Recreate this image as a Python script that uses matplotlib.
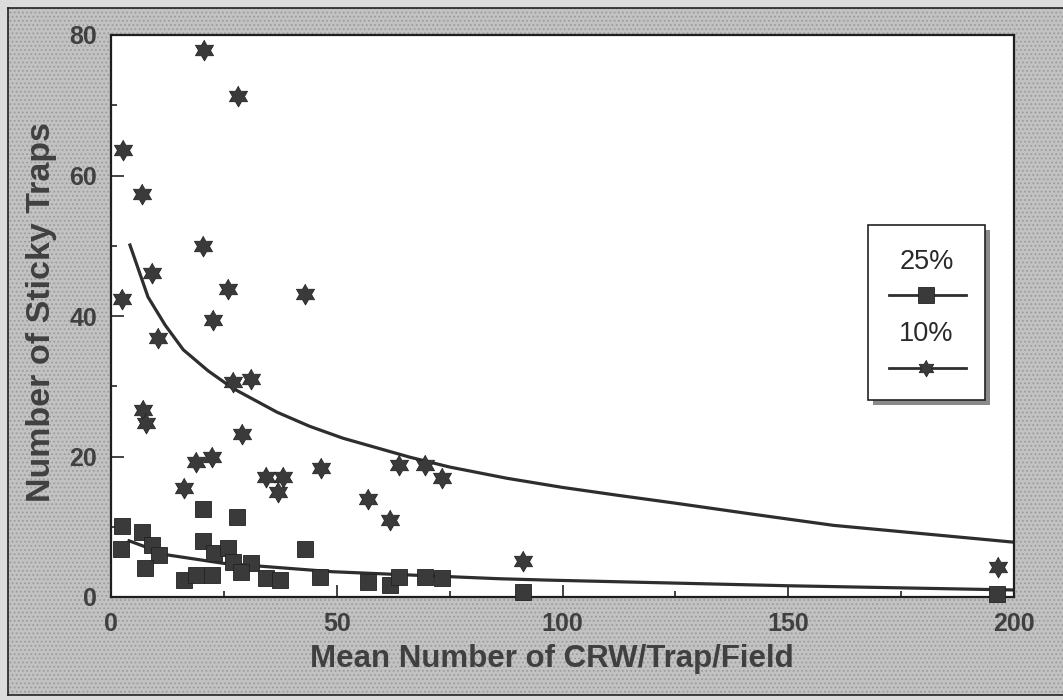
import numpy as np
import matplotlib
matplotlib.use("Agg")
import matplotlib.pyplot as plt
from matplotlib.patches import Rectangle
from matplotlib.lines import Line2D

plt.rcParams["font.family"] = ["Liberation Sans", "DejaVu Sans"]
plt.rcParams["hatch.linewidth"] = 0.8

# 10% precision: observed points (stars)
x10 = [2.6, 6.9, 20.6, 28.1, 2.4, 9.1, 10.4, 20.4, 25.9, 22.6, 27.0, 31.0, 43.0,
       7.1, 7.8, 29.0, 18.8, 22.4, 16.2, 34.3, 38.1, 37.0, 46.5, 63.8, 69.5,
       73.3, 56.9, 61.8, 91.2, 196.5]
y10 = [63.6, 57.4, 77.9, 71.3, 42.4, 46.1, 36.9, 50.0, 43.8, 39.4, 30.6, 31.0, 43.1,
       26.6, 24.8, 23.2, 19.2, 20.0, 15.5, 17.1, 17.1, 15.0, 18.4, 18.8, 18.8,
       17.0, 13.9, 11.0, 5.1, 4.2]

# 25% precision: observed points (squares)
x25 = [2.4, 2.2, 6.9, 9.1, 10.6, 7.5, 20.4, 27.9, 20.4, 22.8, 25.9, 27.0, 31.0,
       28.8, 16.2, 18.8, 22.4, 43.0, 34.3, 37.4, 46.3, 56.9, 61.8, 63.8, 69.5,
       73.3, 91.2, 196.2]
y25 = [10.1, 6.8, 9.2, 7.4, 6.0, 4.1, 12.5, 11.4, 8.0, 6.3, 7.0, 5.0, 4.9,
       3.6, 2.4, 3.1, 3.1, 6.9, 2.7, 2.4, 2.9, 2.2, 1.7, 2.9, 2.9,
       2.7, 0.7, 0.4]

# fitted curves
curve10_x = [4.2, 8.2, 12.0, 16.0, 21.5, 27.0, 36.8, 44.0, 51.4, 66.2, 75.0, 87.7,
             100.0, 112.0, 124.5, 142.0, 160.0, 180.0, 200.0]
curve10_y = [50.1, 42.7, 38.7, 35.2, 32.2, 29.7, 26.3, 24.3, 22.6, 19.9, 18.5, 16.9,
             15.6, 14.5, 13.4, 11.8, 10.2, 9.0, 7.8]
curve25_x = [4.0, 12.4, 24.8, 49.0, 71.0, 86.0, 97.0, 150.0, 200.0]
curve25_y = [8.0, 6.0, 4.8, 3.6, 3.0, 2.6, 2.4, 1.6, 1.0]

series_labels = ["25%", "10%"]

INK = "#2e2e2e"
MARK = "#3a3a3a"
LABEL = "#404040"

# six-pointed star (two overlapping triangles)
ang = np.deg2rad(90 + 30 * np.arange(12))
rad = np.where(np.arange(12) % 2 == 0, 1.0, 0.577)
hexagram = np.column_stack([rad * np.cos(ang), rad * np.sin(ang)])

fig = plt.figure(figsize=(10.63, 7.0), dpi=100)
fig.patch.set_facecolor("#dcdcdc")
# inner stippled panel with black frame on left/top/bottom
fig.patches.append(Rectangle((8 / 1063, 5 / 700), 1.0, 687 / 700, transform=fig.transFigure,
                             facecolor="#c2c2c2", edgecolor="#9c9c9c", lw=0, hatch="....",
                             zorder=-10))
for xs, ys in [([8 / 1063, 1.0], [692 / 700, 692 / 700]),
               ([8 / 1063, 8 / 1063], [5 / 700, 692 / 700]),
               ([8 / 1063, 1.0], [5 / 700, 5 / 700])]:
    fig.lines.append(Line2D(xs, ys, transform=fig.transFigure, color="#222222", lw=1.2,
                            zorder=-9))

ax = fig.add_axes([111 / 1063, 103 / 700, 903 / 1063, 562 / 700])
ax.set_facecolor("white")

ax.plot(curve10_x, curve10_y, color=INK, lw=2.3, zorder=2)
ax.plot(curve25_x, curve25_y, color=INK, lw=2.3, zorder=2)
ax.plot(x25, y25, ls="none", marker="s", ms=11.5, mfc=MARK, mec="#222222", mew=0.6,
        clip_on=False, zorder=3)
ax.plot(x10, y10, ls="none", marker=hexagram, ms=15, mfc=MARK, mec="#222222", mew=0.6,
        clip_on=False, zorder=3)

ax.set_xlim(0, 200)
ax.set_ylim(0, 80)
ax.set_xticks(np.arange(0, 201, 50))
ax.set_xticks(np.arange(0, 201, 25), minor=True)
ax.set_yticks(np.arange(0, 81, 20))
ax.set_yticks(np.arange(0, 81, 10), minor=True)
ax.tick_params(which="both", direction="in", color="#222222", width=1.2)
ax.tick_params(which="major", length=9)
ax.tick_params(which="minor", length=4.5)
ax.tick_params(axis="x", which="major", pad=11)
ax.tick_params(axis="y", which="major", pad=10)
for lab in ax.get_xticklabels() + ax.get_yticklabels():
    lab.set_fontsize(18)
    lab.set_fontweight("bold")
    lab.set_color(LABEL)
for sp in ax.spines.values():
    sp.set_linewidth(1.6)
    sp.set_color("#1e1e1e")

ax.set_xlabel("Mean Number of CRW/Trap/Field", fontsize=22.5, fontweight="bold",
              color=LABEL, labelpad=5)
ax.xaxis.set_label_coords(0.488, -0.083)
ax.set_ylabel("Number of Sticky Traps", fontsize=24.5, fontweight="bold", color=LABEL)
ax.yaxis.set_label_coords(-0.06, 0.507)

# legend box drawn by hand (label above each sample line)
bx0, by0, bw, bh = 0.838, 0.3505, 0.130, 0.3115
ax.add_patch(Rectangle((bx0 + 0.0055, by0 - 0.0089), bw, bh, transform=ax.transAxes,
                       facecolor="#8a8a8a", edgecolor="none", zorder=4))
ax.add_patch(Rectangle((bx0, by0), bw, bh, transform=ax.transAxes,
                       facecolor="white", edgecolor="#222222", lw=1.2, zorder=5))
cx = bx0 + bw / 2
for lab, ty, ly, mk, ms in [(series_labels[0], 0.596, 0.537, "s", 11),
                            (series_labels[1], 0.468, 0.4075, hexagram, 12)]:
    ax.text(cx, ty, lab, transform=ax.transAxes, ha="center", va="center",
            fontsize=19.5, color="#2a2a2a", zorder=6)
    ax.plot([0.8616, 0.9468], [ly, ly], transform=ax.transAxes, color=INK, lw=2, zorder=6)
    ax.plot([cx], [ly], transform=ax.transAxes, marker=mk, ms=ms, mfc=MARK,
            mec="#222222", mew=0.6, zorder=7)

fig.savefig("out.png", dpi=100, facecolor=fig.get_facecolor())
